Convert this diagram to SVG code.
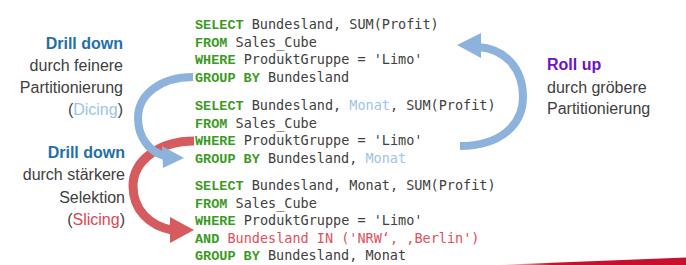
<svg xmlns="http://www.w3.org/2000/svg" width="686" height="265" viewBox="0 0 686 265">
  <defs>
    <linearGradient id="barFade" x1="495" y1="0" x2="686" y2="0" gradientUnits="userSpaceOnUse">
      <stop offset="0" stop-color="#c8102e" stop-opacity="0"/>
      <stop offset="0.3" stop-color="#c8102e" stop-opacity="1"/>
      <stop offset="1" stop-color="#c8102e"/>
    </linearGradient>
    <style>
      .lbl { font-family: "Liberation Sans", Arial, sans-serif; font-size: 16px; fill: #404040; }
      .head { font-weight: bold; fill: #1f6fa8; }
      .roll { font-weight: bold; fill: #7010c8; }
      .dice { fill: #9dc3e6; }
      .slice { fill: #e04552; }
      .code { font-family: "DejaVu Sans Mono", "Liberation Mono", monospace; font-size: 13.5px; fill: #404040; }
      .kw { font-family: "Liberation Mono", "Courier New", monospace; font-weight: bold; fill: #3a9a22; }
      .mon { fill: #9dc3e6; }
      .red { fill: #e0505a; }
      .band { fill: none; stroke-width: 8; stroke-linecap: butt; }
      .blue { stroke: #8db3dc; }
      .redArc { stroke: #d55b5f; stroke-width: 9; }
      .headBlue { fill: #8db3dc; }
      .headRed { fill: #d55b5f; }
    </style>
  </defs>

  <!-- bottom accent bar -->
  <polygon points="495,265 686,257.5 686,265" fill="url(#barFade)"/>

  <!-- curved arrows between the queries -->
  <g id="connectors">
    <g id="slice-arrow">
      <path class="band redArc" d="M 194 141 C 160 141, 133 160, 133 186 C 133 210, 150 226, 172 230"/>
      <polygon class="headRed" points="194,230 170,217 170,243"/>
    </g>
    <g id="dice-arrow">
      <path class="band blue" d="M 193 77 C 160 77, 138 95, 138 118 C 138 138, 150 152, 165 156"/>
      <polygon class="headBlue" points="184,158 162,146 163,168"/>
    </g>
    <g id="rollup-arrow">
      <path class="band blue" d="M 460 146 C 500 146, 523 125, 523 97 C 523 68, 505 49, 478 47"/>
      <polygon class="headBlue" points="457,45 481,33 481,58"/>
    </g>
  </g>

  <!-- left: drill down by finer partitioning -->
  <g id="label-dicing" class="lbl" text-anchor="end">
    <text x="123" y="49" class="lbl head">Drill down</text>
    <text x="123" y="71" class="lbl">durch feinere</text>
    <text x="123" y="93" class="lbl">Partitionierung</text>
    <text x="123" y="115" class="lbl">(<tspan class="dice">Dicing</tspan>)</text>
  </g>

  <!-- left: drill down by stronger selection -->
  <g id="label-slicing" class="lbl" text-anchor="end">
    <text x="125" y="158" class="lbl head">Drill down</text>
    <text x="125" y="180" class="lbl">durch stärkere</text>
    <text x="125" y="203" class="lbl">Selektion</text>
    <text x="125" y="225" class="lbl">(<tspan class="slice">Slicing</tspan>)</text>
  </g>

  <!-- right: roll up -->
  <g id="label-rollup" class="lbl">
    <text x="547" y="70" class="lbl roll">Roll up</text>
    <text x="547" y="93" class="lbl">durch gröbere</text>
    <text x="547" y="114" class="lbl">Partitionierung</text>
  </g>

  <!-- query 1 -->
  <g id="query-1" class="code" xml:space="preserve">
    <text x="195" y="29" class="code"><tspan class="kw">SELECT</tspan> Bundesland, SUM(Profit)</text>
    <text x="195" y="46.5" class="code"><tspan class="kw">FROM</tspan> Sales_Cube</text>
    <text x="195" y="64" class="code"><tspan class="kw">WHERE</tspan> ProduktGruppe = 'Limo'</text>
    <text x="195" y="81.5" class="code"><tspan class="kw">GROUP BY</tspan> Bundesland</text>
  </g>

  <!-- query 2 -->
  <g id="query-2" class="code" xml:space="preserve">
    <text x="195" y="110" class="code"><tspan class="kw">SELECT</tspan> Bundesland, <tspan class="mon">Monat</tspan>, SUM(Profit)</text>
    <text x="195" y="127.5" class="code"><tspan class="kw">FROM</tspan> Sales_Cube</text>
    <text x="195" y="145" class="code"><tspan class="kw">WHERE</tspan> ProduktGruppe = 'Limo'</text>
    <text x="195" y="162.5" class="code"><tspan class="kw">GROUP BY</tspan> Bundesland, <tspan class="mon">Monat</tspan></text>
  </g>

  <!-- query 3 -->
  <g id="query-3" class="code" xml:space="preserve">
    <text x="195" y="190" class="code"><tspan class="kw">SELECT</tspan> Bundesland, Monat, SUM(Profit)</text>
    <text x="195" y="207.5" class="code"><tspan class="kw">FROM</tspan> Sales_Cube</text>
    <text x="195" y="225" class="code"><tspan class="kw">WHERE</tspan> ProduktGruppe = 'Limo'</text>
    <text x="195" y="242.5" class="code"><tspan class="kw">AND</tspan><tspan class="red"> Bundesland IN ('NRW‘, ‚Berlin')</tspan></text>
    <text x="195" y="260" class="code"><tspan class="kw">GROUP BY</tspan> Bundesland, Monat</text>
  </g>
</svg>
